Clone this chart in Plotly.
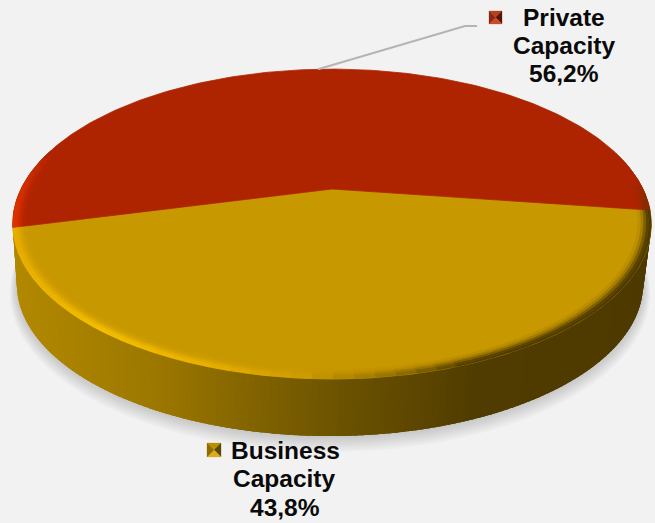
import numpy as np
import plotly.graph_objects as go

# Capacity split, in percent
categories = ["Private Capacity", "Business Capacity"]
shares = [56.2, 43.8]
share_labels = ["56,2%", "43,8%"]

W, H = 655, 523
BACKGROUND = "#f2f2f2"
FACE = {"Private Capacity": (174, 36, 0), "Business Capacity": (200, 152, 0)}

# Perspective of the tilted disc (screen pixels)
CX, CY = 332.0, 189.0
RX, RY, PERSP = 311.0, 147.0, -0.226
LOW_CX, LOW_CY = 330.0, 250.0
LOW_RX, LOW_RY = 305.0, 144.0
START_DEG = 8.0


def project(t_deg, r=1.0, cx=CX, cy=CY, rx=RX, ry=RY):
    t = np.radians(t_deg)
    u, v = r * np.cos(t), r * np.sin(t)
    d = 1 + PERSP * v
    return cx + rx * u / d, cy + ry * v / d


def lerp_stops(x, stops):
    xs = [s[0] for s in stops]
    return tuple(np.interp(x, xs, [s[1][i] for s in stops]) for i in range(3))


def css(c):
    return "rgb(%d,%d,%d)" % tuple(int(round(v)) for v in c)


def blend(a, b, w):
    return tuple(a[i] * w + b[i] * (1 - w) for i in range(3))


SIDE_STOPS = [(13, (178, 136, 0)), (150, (155, 119, 0)), (250, (127, 97, 0)),
              (330, (107, 82, 0)), (400, (94, 71, 0)), (470, (80, 59, 0)), (655, (78, 58, 0))]
GOLD_RIM = [(13, (232, 174, 0)), (100, (245, 192, 0)), (200, (235, 178, 0)), (300, (207, 156, 0)),
            (400, (143, 110, 0)), (470, (80, 59, 0)), (655, (78, 58, 0))]
RED_RIM = [(13, (222, 50, 0)), (50, (174, 36, 0)), (638, (174, 36, 0)), (655, (110, 50, 0))]

fig = go.Figure()


def poly(xs, ys, color, line=0.8, opacity=1.0):
    fig.add_trace(go.Scatter(
        x=list(xs), y=list(ys), mode="lines", fill="toself", fillcolor=color,
        line=dict(color=color, width=line), opacity=opacity,
        hoverinfo="skip", showlegend=False))


# Soft drop shadow under the disc
ring = np.arange(0, 361, 3.0)
for i in range(7):
    sx, sy = project(ring, 1.0, LOW_CX, LOW_CY + 1 + i, LOW_RX + 1 + i, LOW_RY + 1 + i)
    poly(sx, sy, "rgb(0,0,0)", line=0, opacity=0.022)

# Cylinder wall, shaded from left to right; strips overlap the next one to hide seams
wall = np.arange(-15, 195, 1.0)
for a in wall:
    b = a + 2.5
    tx, ty = project(np.array([a, b]))
    lx, ly = project(np.array([b, a]), 1.0, LOW_CX, LOW_CY, LOW_RX, LOW_RY)
    poly([*tx, *lx, tx[0]], [*ty, *ly, ty[0]], css(lerp_stops(tx[1], SIDE_STOPS)), line=0)

# Top faces, one wedge per category
gold_sweep = shares[1] * 3.6
bounds = {"Business Capacity": (START_DEG, START_DEG + gold_sweep),
          "Private Capacity": (START_DEG + gold_sweep, START_DEG + 360.0)}
for name, (a0, a1) in bounds.items():
    arc = np.arange(a0, a1, 1.0)
    arc = np.append(arc, a1)
    ex, ey = project(arc)
    poly([CX, *ex, CX], [CY, *ey, CY], css(FACE[name]))

# Bevel along the rim, fading into each face
RINGS = [1.0, 0.992, 0.984, 0.976, 0.968, 0.960]
WEIGHTS = [1.0, 0.92, 0.62, 0.3, 0.1]
for name, (a0, a1) in bounds.items():
    stops = GOLD_RIM if name == "Business Capacity" else RED_RIM
    edges = np.linspace(a0, a1, int((a1 - a0) / 3) + 1)
    for a, b in zip(edges[:-1], edges[1:]):
        mx, _ = project((a + b) / 2)
        rim = lerp_stops(mx, stops)
        if rim == FACE[name]:
            continue
        for j, w in enumerate(WEIGHTS):
            ox, oy = project(np.array([a, b]), RINGS[j])
            ix, iy = project(np.array([b, a]), RINGS[j + 1])
            poly([*ox, *ix, ox[0]], [*oy, *iy, oy[0]], css(blend(rim, FACE[name], w)), line=0.5)

# Leader from the middle of the private wedge to its label
leader_t = bounds["Private Capacity"][0] + shares[0] * 1.8
lead_x, lead_y = project(leader_t)
fig.add_trace(go.Scatter(
    x=[float(lead_x), 465, 477], y=[float(lead_y), 26, 26], mode="lines",
    line=dict(color="#b4b4b4", width=2), hoverinfo="skip", showlegend=False))


def legend_key(x0, y0, size, tones):
    # Small bevelled square: four triangles meeting at the middle
    cx, cy = x0 + size / 2, y0 + size / 2
    corners = [(x0, y0), (x0 + size, y0), (x0 + size, y0 + size), (x0, y0 + size)]
    for k, tone in enumerate(tones):
        p, q = corners[k], corners[(k + 1) % 4]
        poly([p[0], q[0], cx, p[0]], [p[1], q[1], cy, p[1]], tone, line=0.3)


# Tones run top, right, bottom, left
legend_key(489, 11, 13, ["#b8401e", "#5a1404", "#cc4a28", "#8a2a12"])
legend_key(207, 443, 14, ["#b89000", "#5e4800", "#dcac18", "#8f6c00"])


def label(text, x, baseline):
    fig.add_annotation(
        x=x, y=baseline - 8.5, text=text, showarrow=False, xanchor="center", yanchor="middle",
        font=dict(family="Liberation Sans", size=24.5, color="#0a0a0a", weight="bold"))


label("Private", 564, 26)
label("Capacity", 564, 54)
label(share_labels[0], 564, 82)
label("Business", 285.5, 459)
label("Capacity", 284, 487)
label(share_labels[1], 284.5, 516)

fig.update_xaxes(range=[0, W], visible=False, fixedrange=True)
fig.update_yaxes(range=[H, 0], visible=False, fixedrange=True)
fig.update_layout(width=W, height=H, margin=dict(l=0, r=0, t=0, b=0),
                  paper_bgcolor=BACKGROUND, plot_bgcolor=BACKGROUND, showlegend=False)
fig.write_html("out.html", config={"displayModeBar": False})
